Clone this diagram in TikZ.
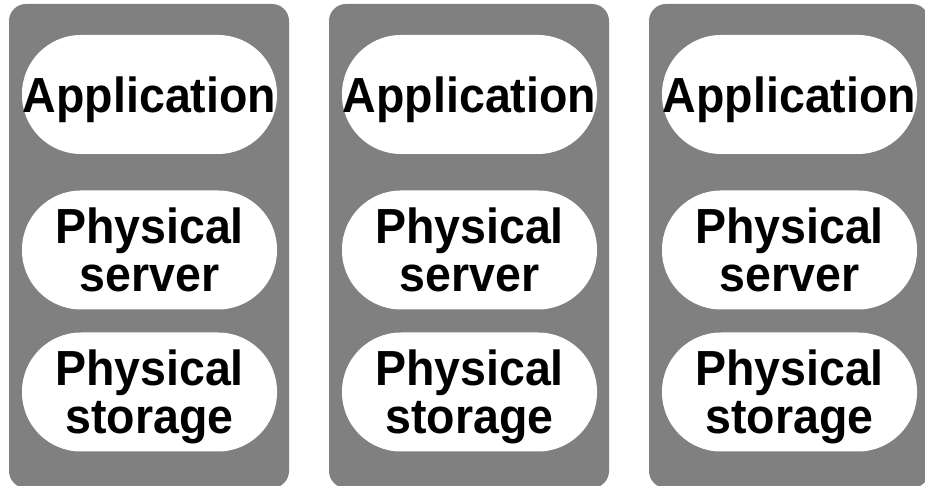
\documentclass[tikz,border=0pt]{standalone}
\usepackage{fontspec}
\setmainfont{Liberation Sans}
\definecolor{panelgray}{HTML}{808080}
\begin{document}
\begin{tikzpicture}[x=1pt,y=1pt,
  panel/.style={fill=panelgray, rounded corners=17pt},
  layer/.style={fill=white, rounded corners=59pt, minimum width=255pt,
                minimum height=119pt, inner sep=0pt},
  lbl/.style={font=\bfseries\fontsize{46.5pt}{45.3pt}\selectfont, align=center,
              inner sep=0pt, yscale=1.06, transform shape, text depth=0pt},
  oneline/.style={lbl, text height=33.3pt},
  twoline/.style={lbl, text height=78.6pt}]
\useasboundingbox (0,0) rectangle (925,486);
\clip (0,0) rectangle (925,486);
\fill[white] (0,0) rectangle (925,486);
\foreach \i in {0,1,2}{
  % one stack: application on a physical server on physical storage
  \fill[panel] (9+320*\i,-2) rectangle (289+320*\i,482);
  \node[layer] (app\i) at (149.5+320*\i,391.5) {};
  \node[layer] (srv\i) at (149.5+320*\i,236) {};
  \node[layer] (sto\i) at (149.5+320*\i,94) {};
  \node[oneline] (appT\i) at (app\i) {Application};
  \node[twoline] (srvT\i) at (srv\i) {Physical\\server};
  \node[twoline] (stoT\i) at (sto\i) {Physical\\storage};
}
\end{tikzpicture}
\end{document}
